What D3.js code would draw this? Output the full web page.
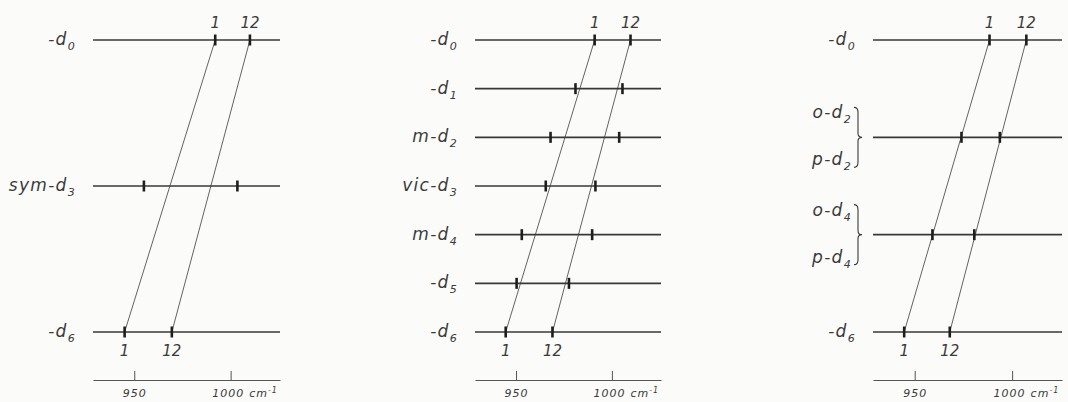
<!DOCTYPE html>
<html>
<head>
<meta charset="utf-8">
<script src="https://cdn.jsdelivr.net/npm/d3@7"></script>
<style>
  body { margin: 0; background: #fbfbf9; }
  svg { display: block; }
  text { font-family: "DejaVu Sans", sans-serif; font-style: italic; font-weight: 300; fill: #3a3a3a; }
</style>
</head>
<body>
<svg id="chart" width="1068" height="402"></svg>
<script>
// Wavenumber window shared by the three panels (cm-1)
const waveDomain = [928.6, 1025.6];
const axisTicks = [950, 1000];
const modeNames = ["1", "12"];

// Panel 1: benzene-d0, sym-d3, d6
const p1Labels = ["-d0", "sym-d3", "-d6"];
const p1Low    = [992, 955, 945];
const p1High   = [1010, 1003.5, 969.5];

// Panel 2: d0 ... d6 (m-, vic- isomers)
const p2Labels = ["-d0", "-d1", "m-d2", "vic-d3", "m-d4", "-d5", "-d6"];
const p2Low    = [991, 981, 968, 965.5, 953, 950.3, 944.6];
const p2High   = [1009.7, 1005.5, 1003.8, 991.4, 989.7, 977.6, 969];

// Panel 3: o/p pairs share one line
const p3Labels = [["-d0"], ["o-d2", "p-d2"], ["o-d4", "p-d4"], ["-d6"]];
const p3Low    = [988.4, 974, 959.1, 944.6];
const p3High   = [1007.3, 993.7, 980.6, 968];

const panels = [
  { labels: p1Labels.map(d => [d]), low: p1Low, high: p1High, range: [93, 280] },
  { labels: p2Labels.map(d => [d]), low: p2Low, high: p2High, range: [475, 661] },
  { labels: p3Labels, low: p3Low, high: p3High, range: [873, 1062] }
];

const svg = d3.select("#chart");
const rowTop = 40, rowBottom = 332, axisY = 380;

function addLabel(g, str, x, y) {
  const m = str.match(/^(.*d)(\d)$/);
  const t = g.append("text")
    .attr("x", x).attr("y", y)
    .attr("text-anchor", "end")
    .style("font-size", "17px")
    .style("letter-spacing", "1.3px");
  t.append("tspan").text(m[1]);
  t.append("tspan").attr("dy", 5).style("font-size", "11px").text(m[2]);
}

panels.forEach(p => {
  const n = p.labels.length;
  const x = d3.scaleLinear().domain(waveDomain).range(p.range);
  const y = d3.scaleLinear().domain([0, n - 1]).range([rowTop, rowBottom]);
  const g = svg.append("g");

  // correlation lines joining d0 and d6 bands
  ["low", "high"].forEach(k => {
    g.append("line")
      .attr("x1", x(p[k][0])).attr("y1", y(0))
      .attr("x2", x(p[k][n - 1])).attr("y2", y(n - 1))
      .attr("stroke", "#3c3c3c").attr("stroke-width", 0.8);
  });

  p.labels.forEach((lab, i) => {
    const yy = y(i);
    // species baseline
    g.append("line")
      .attr("x1", p.range[0]).attr("x2", p.range[1])
      .attr("y1", yy).attr("y2", yy)
      .attr("stroke", "#383838").attr("stroke-width", 1.6);
    // band markers
    [p.low[i], p.high[i]].forEach(v => {
      g.append("line")
        .attr("x1", x(v)).attr("x2", x(v))
        .attr("y1", yy - 5.5).attr("y2", yy + 5.5)
        .attr("stroke", "#1e1e1e").attr("stroke-width", 2.6);
    });

    if (lab.length === 1) {
      addLabel(g, lab[0], p.range[0] - 17, yy + 5);
    } else {
      const bx = p.range[0] - 15;
      addLabel(g, lab[0], bx - 6, yy - 19);
      addLabel(g, lab[1], bx - 6, yy + 28);
      // curly brace grouping the two isomers
      const t = yy - 30, b = yy + 30;
      g.append("path")
        .attr("d", `M${bx - 4},${t} Q${bx},${t} ${bx},${t + 5} L${bx},${yy - 4} Q${bx},${yy} ${bx + 4},${yy} Q${bx},${yy} ${bx},${yy + 4} L${bx},${b - 5} Q${bx},${b} ${bx - 4},${b}`)
        .attr("fill", "none").attr("stroke", "#3a3a3a").attr("stroke-width", 1.1);
    }
  });

  // mode numbers above d0 and below d6
  [p.low, p.high].forEach((arr, j) => {
    g.append("text").attr("x", x(arr[0])).attr("y", 28)
      .attr("text-anchor", "middle").style("font-size", "15px")
      .text(modeNames[j]);
    g.append("text").attr("x", x(arr[n - 1])).attr("y", 356)
      .attr("text-anchor", "middle").style("font-size", "15px")
      .text(modeNames[j]);
  });

  // wavenumber axis
  const ax = g.append("g").attr("transform", `translate(0,${axisY})`)
    .call(d3.axisBottom(x).tickValues(axisTicks)
      .tickSizeInner(-9).tickSizeOuter(0).tickPadding(9)
      .tickFormat(d3.format("d")));
  ax.select(".domain").attr("stroke", "#555").attr("stroke-width", 1);
  ax.selectAll(".tick line").attr("stroke", "#555").attr("stroke-width", 1);
  ax.selectAll(".tick text")
    .attr("fill", "#3a3a3a")
    .style("font-family", "DejaVu Sans, sans-serif")
    .style("font-style", "italic")
    .style("font-weight", "300")
    .style("font-size", "11px")
    .style("letter-spacing", "1px");
  ax.selectAll(".tick").filter(d => d === 1000).select("text")
    .attr("text-anchor", "start").attr("x", -19)
    .each(function () {
      const t = d3.select(this);
      t.append("tspan").attr("dx", 5).text("cm");
      t.append("tspan").attr("dy", -4).style("font-size", "8px").text("-1");
    });
});
</script>
</body>
</html>
